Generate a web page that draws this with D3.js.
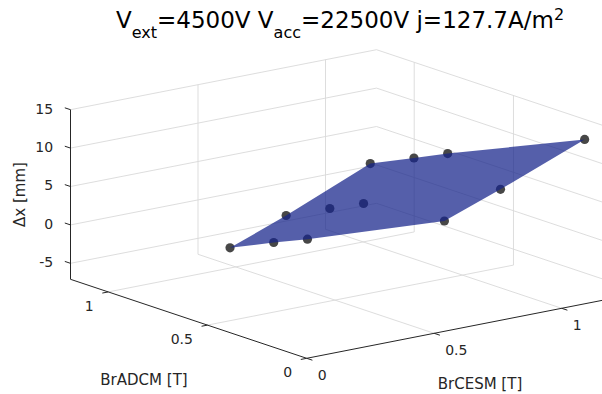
<!DOCTYPE html>
<html>
<head>
<meta charset="utf-8">
<script src="https://cdn.jsdelivr.net/npm/d3@7/dist/d3.min.js"></script>
<style>
  html, body { margin: 0; padding: 0; background: #fff; }
  svg { display: block; font-family: "DejaVu Sans", sans-serif; }
</style>
</head>
<body>
<svg id="chart" width="602" height="394"></svg>
<script>
// Measurement grid: BrCESM (columns) x BrADCM (rows), deflection in mm
const brCESM = [0.54, 0.76, 1.09];
const brADCM = [1.08, 0.86, 0.69, 0];
const deltaX = [
  [-5.55, -2.77, 1.84],
  [-2.95,  0.04, 4.47],
  [-1.05,  2.16, 6.51],
  [ 7.28,  9.97, 14.32]
];

// Axis limits and ticks
const xLimits = [0, 1.2];
const yLimits = [0, 1.19];
const zLimits = [-7.08, 15];
const xTicks = [0, 0.5, 1];
const yTicks = [0, 0.5, 1];
const zTicks = [-5, 0, 5, 10, 15];

const svg = d3.select("#chart");

// Data -> normalized box coordinates
const sx = d3.scaleLinear().domain(xLimits).range([0, 1]);
const sy = d3.scaleLinear().domain(yLimits).range([0, 1]);
const sz = d3.scaleLinear().domain(zLimits).range([0, 1]);

// Orthographic view of the plot box (az ≈ -37.5°, low elevation)
const O = [306.7, 358.3];   // front-bottom corner
const U = [306, -60];       // full BrCESM edge
const V = [-236.2, -79];    // full BrADCM edge
const W = [0, -169.6];      // full vertical edge
function proj(x, y, z) {
  const a = sx(x), b = sy(y), c = sz(z);
  return [O[0] + U[0] * a + V[0] * b + W[0] * c,
          O[1] + U[1] * a + V[1] * b + W[1] * c];
}
const line = d3.line();
const unit = v => { const l = Math.hypot(v[0], v[1]); return [v[0] / l, v[1] / l]; };

const [x0, x1] = xLimits, [y0, y1] = yLimits, [z0, z1] = zLimits;
const gridColor = "#d9d9d9";
const axisColor = "#262626";

// Grid lines on the back walls and the floor
const grid = svg.append("g").attr("fill", "none").attr("stroke", gridColor).attr("stroke-width", 0.9);
const gridSegs = [];
zTicks.forEach(z => {
  gridSegs.push([proj(x0, y1, z), proj(x1, y1, z)]);   // back-left wall
  gridSegs.push([proj(x1, y1, z), proj(x1, y0, z)]);   // back-right wall
});
xTicks.filter(t => t > x0).forEach(x => {
  gridSegs.push([proj(x, y1, z0), proj(x, y1, z1)]);
  gridSegs.push([proj(x, y0, z0), proj(x, y1, z0)]);
});
yTicks.filter(t => t > y0).forEach(y => {
  gridSegs.push([proj(x1, y, z0), proj(x1, y, z1)]);
  gridSegs.push([proj(x0, y, z0), proj(x1, y, z0)]);
});
grid.selectAll("path").data(gridSegs).join("path").attr("d", d => line(d));

// Axis lines
const axes = svg.append("g").attr("fill", "none").attr("stroke", axisColor).attr("stroke-width", 1);
axes.append("path").attr("d", line([proj(x0, y0, z0), proj(x1, y0, z0)]));
axes.append("path").attr("d", line([proj(x0, y0, z0), proj(x0, y1, z0)]));
axes.append("path").attr("d", line([proj(x0, y1, z0), proj(x0, y1, z1)]));

// Tick marks
const uDir = unit(U), vDir = unit(V);
const tickLen = 6;
xTicks.forEach(t => {
  const p = proj(t, y0, z0);
  axes.append("path").attr("d", line([p, [p[0] - vDir[0] * tickLen, p[1] - vDir[1] * tickLen]]));
});
yTicks.forEach(t => {
  const p = proj(x0, t, z0);
  axes.append("path").attr("d", line([p, [p[0] - uDir[0] * tickLen, p[1] - uDir[1] * tickLen]]));
});
zTicks.forEach(t => {
  const p = proj(x0, y1, t);
  axes.append("path").attr("d", line([p, [p[0] + vDir[0] * tickLen, p[1] + vDir[1] * tickLen]]));
});

// Tick labels
const labels = svg.append("g").attr("fill", axisColor).attr("font-size", 14);
const fmt = d => String(d);
zTicks.forEach(t => {
  const p = proj(x0, y1, t);
  labels.append("text").attr("x", p[0] - 17.4).attr("y", p[1] - 1)
    .attr("dy", "0.35em").attr("text-anchor", "end").text(fmt(t));
});
yTicks.forEach(t => {
  const p = proj(x0, t, z0);
  labels.append("text").attr("x", p[0] - 14.5).attr("y", p[1] + 14)
    .attr("dy", "0.35em").attr("text-anchor", "end").text(fmt(t));
});
xTicks.forEach(t => {
  const p = proj(t, y0, z0);
  labels.append("text").attr("x", p[0] + 11).attr("y", p[1] + 17)
    .attr("dy", "0.35em").attr("text-anchor", "start").text(fmt(t));
});

// Measured points
const points = [];
brADCM.forEach((yv, i) => brCESM.forEach((xv, j) => points.push({ x: xv, y: yv, z: deltaX[i][j] })));
svg.append("g").selectAll("circle").data(points).join("circle")
  .attr("cx", d => proj(d.x, d.y, d.z)[0])
  .attr("cy", d => proj(d.x, d.y, d.z)[1])
  .attr("r", 4.6)
  .attr("fill", "#474747");

// Surface over the measurement grid (outline of the grid boundary)
const nr = brADCM.length, nc = brCESM.length;
const ring = [];
for (let j = 0; j < nc; j++) ring.push([0, j]);
for (let i = 1; i < nr; i++) ring.push([i, nc - 1]);
for (let j = nc - 2; j >= 0; j--) ring.push([nr - 1, j]);
for (let i = nr - 2; i > 0; i--) ring.push([i, 0]);
const outline = ring.map(([i, j]) => proj(brCESM[j], brADCM[i], deltaX[i][j]));
svg.append("path")
  .attr("d", line(outline) + "Z")
  .attr("fill", "rgb(22,36,138)")
  .attr("fill-opacity", 0.73)
  .attr("stroke", "none");

// Axis titles
const axisTitles = svg.append("g").attr("fill", axisColor).attr("font-size", 15).attr("text-anchor", "middle");
axisTitles.append("text").attr("transform", "translate(19.3,194.5) rotate(-90)")
  .attr("dy", "0.35em").text("Δx [mm]");
axisTitles.append("text").attr("x", 144).attr("y", 385).text("BrADCM [T]");
axisTitles.append("text").attr("x", 480).attr("y", 389).text("BrCESM [T]");

// Title with sub/superscripts
const title = svg.append("text").attr("x", 340).attr("y", 28.3)
  .attr("text-anchor", "middle").attr("font-size", 23).attr("fill", "#000");
title.append("tspan").text("V");
title.append("tspan").attr("font-size", 16).attr("dy", 10).text("ext");
title.append("tspan").attr("dy", -10).text("=4500V V");
title.append("tspan").attr("font-size", 16).attr("dy", 10).text("acc");
title.append("tspan").attr("dy", -10).text("=22500V j=127.7A/m");
title.append("tspan").attr("font-size", 16).attr("dy", -8).text("2");
</script>
</body>
</html>
